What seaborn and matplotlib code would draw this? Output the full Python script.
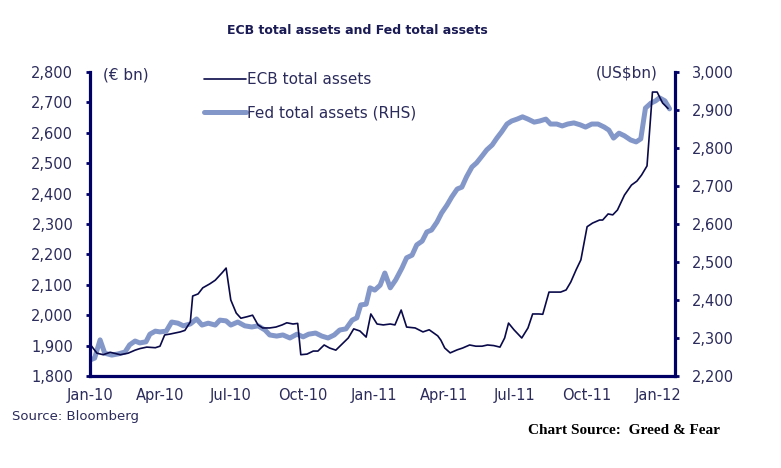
import pandas as pd
import matplotlib
matplotlib.use("Agg")
import matplotlib.pyplot as plt
import matplotlib.dates as mdates
import matplotlib.ticker as mticker
from matplotlib.lines import Line2D
import seaborn as sns

# ECB total assets (EUR bn)
ecb_dates = [
    "2010-01-01", "2010-01-10", "2010-01-18", "2010-01-27", "2010-02-09", "2010-02-19",
    "2010-02-28", "2010-03-06", "2010-03-15", "2010-03-26", "2010-04-01", "2010-04-07",
    "2010-04-14", "2010-04-27", "2010-05-03", "2010-05-10", "2010-05-13", "2010-05-20",
    "2010-05-26", "2010-06-04", "2010-06-11", "2010-06-20", "2010-06-25", "2010-07-01",
    "2010-07-08", "2010-07-14", "2010-07-22", "2010-07-29", "2010-08-05", "2010-08-11",
    "2010-08-20", "2010-08-28", "2010-09-05", "2010-09-11", "2010-09-19", "2010-09-25",
    "2010-09-29", "2010-10-07", "2010-10-15", "2010-10-21", "2010-10-29", "2010-11-05",
    "2010-11-13", "2010-11-21", "2010-11-29", "2010-12-06", "2010-12-14", "2010-12-22",
    "2010-12-28", "2011-01-05", "2011-01-13", "2011-01-22", "2011-01-28", "2011-02-05",
    "2011-02-12", "2011-02-23", "2011-03-05", "2011-03-13", "2011-03-24", "2011-03-28",
    "2011-04-02", "2011-04-09", "2011-04-18", "2011-04-25", "2011-05-04", "2011-05-12",
    "2011-05-20", "2011-05-27", "2011-06-04", "2011-06-12", "2011-06-18", "2011-06-23",
    "2011-06-30", "2011-07-10", "2011-07-18", "2011-07-24", "2011-08-01", "2011-08-06",
    "2011-08-14", "2011-08-22", "2011-08-29", "2011-09-05", "2011-09-11", "2011-09-18",
    "2011-09-24", "2011-10-02", "2011-10-09", "2011-10-18", "2011-10-22", "2011-10-29",
    "2011-11-04", "2011-11-10", "2011-11-19", "2011-11-28", "2011-12-05", "2011-12-11",
    "2011-12-18", "2011-12-25", "2011-12-31", "2012-01-07", "2012-01-14",
]
ecb_values = [
    1905, 1875, 1870, 1878, 1870, 1875,
    1885, 1890, 1895, 1893, 1898, 1935,
    1938, 1945, 1950, 1978, 2063, 2070,
    2090, 2103, 2115, 2140, 2155, 2050,
    2007, 1990, 1995, 2000, 1968, 1958,
    1958, 1961, 1968, 1975, 1971, 1973,
    1870, 1872, 1882, 1882, 1902, 1892,
    1885, 1905, 1925, 1955, 1948, 1928,
    2004, 1971, 1968, 1971, 1968, 2017,
    1961, 1958, 1945, 1952, 1932, 1918,
    1892, 1876, 1886, 1892, 1902, 1898,
    1898, 1902, 1900, 1895, 1925, 1974,
    1952, 1925, 1958, 2004, 2004, 2003,
    2076, 2076, 2076, 2083, 2109, 2150,
    2182, 2291, 2303, 2313, 2313, 2333,
    2330, 2346, 2395, 2428, 2441, 2461,
    2491, 2734, 2734, 2698, 2680,
]

# Fed total assets (US$ bn, right-hand scale)
fed_dates = [
    "2010-01-01", "2010-01-07", "2010-01-14", "2010-01-20", "2010-01-29", "2010-02-06",
    "2010-02-15", "2010-02-21", "2010-02-28", "2010-03-06", "2010-03-14", "2010-03-19",
    "2010-03-26", "2010-04-01", "2010-04-09", "2010-04-16", "2010-04-24", "2010-05-01",
    "2010-05-10", "2010-05-18", "2010-05-25", "2010-06-02", "2010-06-11", "2010-06-17",
    "2010-06-25", "2010-07-01", "2010-07-10", "2010-07-19", "2010-07-28", "2010-08-05",
    "2010-08-14", "2010-08-20", "2010-08-29", "2010-09-06", "2010-09-15", "2010-09-24",
    "2010-10-02", "2010-10-09", "2010-10-18", "2010-10-26", "2010-11-03", "2010-11-11",
    "2010-11-18", "2010-11-26", "2010-12-04", "2010-12-10", "2010-12-15", "2010-12-22",
    "2010-12-27", "2011-01-02", "2011-01-09", "2011-01-15", "2011-01-22", "2011-01-29",
    "2011-02-06", "2011-02-12", "2011-02-19", "2011-02-25", "2011-03-04", "2011-03-10",
    "2011-03-16", "2011-03-23", "2011-03-29", "2011-04-05", "2011-04-11", "2011-04-18",
    "2011-04-24", "2011-04-30", "2011-05-07", "2011-05-13", "2011-05-20", "2011-05-26",
    "2011-06-02", "2011-06-08", "2011-06-14", "2011-06-21", "2011-06-27", "2011-07-04",
    "2011-07-11", "2011-07-18", "2011-07-26", "2011-08-02", "2011-08-10", "2011-08-16",
    "2011-08-24", "2011-08-31", "2011-09-07", "2011-09-15", "2011-09-23", "2011-09-30",
    "2011-10-08", "2011-10-16", "2011-10-24", "2011-10-30", "2011-11-05", "2011-11-12",
    "2011-11-19", "2011-11-27", "2011-12-04", "2011-12-10", "2011-12-16", "2011-12-23",
    "2011-12-29", "2012-01-03", "2012-01-10", "2012-01-16",
]
fed_values = [
    2242, 2247, 2295, 2260, 2255, 2258,
    2263, 2282, 2292, 2287, 2290, 2310,
    2318, 2316, 2318, 2342, 2339, 2332,
    2337, 2350, 2334, 2339, 2334, 2347,
    2345, 2334, 2342, 2332, 2329, 2332,
    2321, 2308, 2305, 2308, 2300, 2310,
    2303, 2310, 2313, 2305, 2300, 2308,
    2321, 2324, 2347, 2353, 2387, 2389,
    2432, 2426, 2439, 2471, 2432, 2453,
    2484, 2511, 2518, 2545, 2555, 2579,
    2584, 2605, 2629, 2650, 2671, 2692,
    2697, 2724, 2750, 2761, 2779, 2795,
    2808, 2826, 2842, 2863, 2871, 2876,
    2882, 2876, 2868, 2871, 2876, 2863,
    2863, 2858, 2863, 2866, 2861, 2855,
    2863, 2863, 2855, 2847, 2826, 2839,
    2832, 2821, 2816, 2824, 2905, 2918,
    2924, 2932, 2924, 2903,
]

ecb = pd.DataFrame({"date": pd.to_datetime(ecb_dates), "assets": ecb_values})
fed = pd.DataFrame({"date": pd.to_datetime(fed_dates), "assets": fed_values})

navy = "#000066"
text_col = "#2b2b5c"
ecb_col = "#0a0a4a"
fed_col = "#8497c9"

sns.set_style("white")
plt.rcParams["font.family"] = ["DejaVu Sans"]

fig = plt.figure(figsize=(7.81, 4.68), dpi=100)
ax = fig.add_axes([0.1152, 0.1966, 0.7491, 0.6496])
ax2 = ax.twinx()

sns.lineplot(data=fed, x="date", y="assets", ax=ax2, color=fed_col, linewidth=3.6)
sns.lineplot(data=ecb, x="date", y="assets", ax=ax, color=ecb_col, linewidth=1.2)

# keep the ECB line on top of the Fed line
ax.set_zorder(ax2.get_zorder() + 1)
ax.patch.set_visible(False)

ax.set_ylim(1800, 2800)
ax.set_yticks(range(1800, 2801, 100))
ax2.set_ylim(2200, 3000)
ax2.set_yticks(range(2200, 3001, 100))
for a in (ax, ax2):
    a.yaxis.set_major_formatter(mticker.StrMethodFormatter("{x:,.0f}"))
    a.set_xlabel("")
    a.set_ylabel("")

ax.set_xlim(pd.Timestamp("2010-01-01"), pd.Timestamp("2012-01-23"))
ax.xaxis.set_major_locator(mdates.MonthLocator(bymonth=[1, 4, 7, 10]))
ax.xaxis.set_major_formatter(mdates.DateFormatter("%b-%y"))

for a in (ax, ax2):
    a.spines["top"].set_visible(False)
    for side in ("left", "right", "bottom"):
        a.spines[side].set_color(navy)
        a.spines[side].set_linewidth(2.3)
    a.tick_params(axis="both", colors=navy, labelcolor=text_col, labelsize=10.5,
                  length=3, width=2, direction="out")
    a.tick_params(axis="y", pad=9)
    a.tick_params(axis="x", pad=6)
ax.spines["right"].set_visible(False)
ax2.spines["left"].set_visible(False)
ax2.spines["bottom"].set_visible(False)

fig.text(0.457, 0.935, "ECB total assets and Fed total assets", ha="center", va="center",
         fontsize=9, fontweight="bold", color="#1a1a55")
ax.text(0.022, 0.99, "(€ bn)", transform=ax.transAxes, ha="left", va="center",
        fontsize=11, color=text_col)
ax2.text(0.97, 0.995, "(US$bn)", transform=ax.transAxes, ha="right", va="center",
         fontsize=11, color=text_col)

handles = [Line2D([], [], color=ecb_col, linewidth=1.2),
           Line2D([], [], color=fed_col, linewidth=3.6)]
leg = ax.legend(handles, ["ECB total assets", "Fed total assets (RHS)"],
                loc="upper left", bbox_to_anchor=(0.172, 1.045), frameon=False,
                fontsize=11, handlelength=2.7, handletextpad=0.12, labelspacing=1.2)
for t in leg.get_texts():
    t.set_color(text_col)

fig.text(0.015, 0.111, "Source: Bloomberg", ha="left", va="center",
         fontsize=9.5, color=text_col)
fig.text(0.676, 0.081, "Chart Source:  Greed & Fear", ha="left", va="center",
         fontsize=11, fontweight="bold", color="black", family="Liberation Serif")

fig.savefig("out.png", dpi=100)
